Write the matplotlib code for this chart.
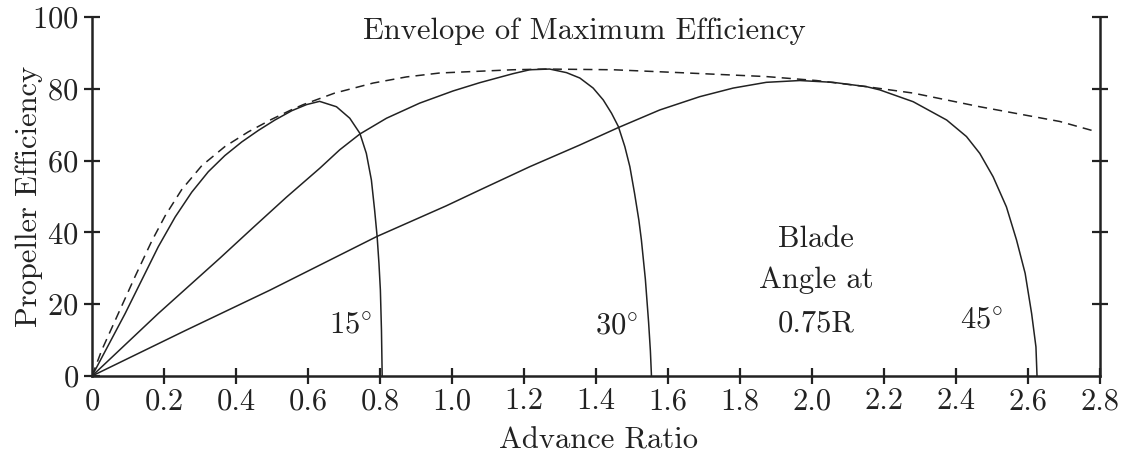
import matplotlib
matplotlib.use("Agg")
import matplotlib.pyplot as plt

plt.rcParams['font.family'] = 'cmr10'
plt.rcParams['mathtext.fontset'] = 'cm'
plt.rcParams['axes.formatter.use_mathtext'] = True
plt.rcParams['font.size'] = 22

ink = '#222222'

# blade angle 15 deg
j15 = [0, 0.092, 0.138, 0.184, 0.231, 0.277, 0.323, 0.369, 0.416, 0.462, 0.508,
       0.555, 0.596, 0.632, 0.679, 0.716, 0.744, 0.762, 0.776, 0.785, 0.792,
       0.797, 0.801, 0.804, 0.806]
eta15 = [0, 17.4, 26.7, 36.0, 44.3, 51.2, 56.9, 61.4, 65.2, 68.4, 71.3,
         73.9, 75.6, 76.5, 75.0, 71.8, 67.6, 62.0, 54.6, 46.2, 38.8,
         31.4, 23.9, 12.7, 0]

# blade angle 30 deg
j30 = [0, 0.184, 0.355, 0.447, 0.54, 0.633, 0.688, 0.744, 0.818, 0.91, 1.003,
       1.077, 1.169, 1.216, 1.271, 1.318, 1.355, 1.392, 1.42, 1.443, 1.462,
       1.48, 1.494, 1.507, 1.519, 1.526, 1.537, 1.546, 1.551, 1.554]
eta30 = [0, 17.4, 32.8, 41.3, 49.8, 57.9, 63.0, 67.4, 71.8, 76.0, 79.4,
         81.7, 84.2, 85.3, 85.5, 84.5, 83.0, 80.2, 76.9, 73.2, 69.5,
         63.9, 58.3, 50.9, 43.4, 37.9, 27.0, 15.0, 7.0, 0]

# blade angle 45 deg
j45 = [0, 0.258, 0.494, 0.79, 0.984, 1.077, 1.216, 1.354, 1.462, 1.577, 1.688,
       1.781, 1.873, 1.966, 2.058, 2.151, 2.188, 2.281, 2.374, 2.429, 2.466,
       2.503, 2.54, 2.568, 2.592, 2.61, 2.622, 2.625]
eta45 = [0, 12.6, 23.9, 38.8, 47.4, 51.8, 58.3, 64.3, 69.2, 74.1, 77.8,
         80.2, 81.8, 82.3, 81.8, 80.6, 79.7, 76.4, 71.3, 66.7, 62.0,
         55.5, 47.1, 37.9, 28.6, 17.4, 8.1, 0]

# envelope of maximum efficiency
jenv = [0, 0.027, 0.073, 0.12, 0.166, 0.203, 0.249, 0.305, 0.369, 0.434, 0.499,
        0.555, 0.587, 0.674, 0.781, 0.873, 0.966, 1.169, 1.262, 1.448, 1.632,
        1.873, 2.012, 2.151, 2.281, 2.466, 2.688, 2.781]
etaenv = [0, 7.2, 17.4, 27.8, 37.6, 44.6, 51.9, 58.6, 63.9, 68.0, 71.5,
          74.2, 75.6, 78.8, 81.6, 83.3, 84.4, 85.3, 85.5, 85.3, 84.5,
          83.4, 82.3, 80.6, 78.8, 75.0, 70.9, 68.3]

xticks = [0, 0.2, 0.4, 0.6, 0.8, 1.0, 1.2, 1.4, 1.6, 1.8, 2.0, 2.2, 2.4, 2.6, 2.8]
xticklabels = ['0', '0.2', '0.4', '0.6', '0.8', '1.0', '1.2', '1.4', '1.6',
               '1.8', '2.0', '2.2', '2.4', '2.6', '2.8']
yticks = [0, 20, 40, 60, 80, 100]

fig = plt.figure(figsize=(11.25, 4.53), dpi=100)
ax = fig.add_axes([0.0818, 0.1700, 0.896, 0.7925])

for j, eta in [(j15, eta15), (j30, eta30), (j45, eta45)]:
    ax.plot(j, eta, color=ink, lw=1.1)
ax.plot(jenv, etaenv, color=ink, lw=1.1, dashes=(6, 4))

ax.set_xlim(0, 2.8)
ax.set_ylim(0, 100)
ax.set_xticks(xticks)
ax.set_xticklabels(xticklabels)
ax.set_yticks(yticks)

ax.spines['top'].set_visible(False)
for s in ['left', 'right', 'bottom']:
    ax.spines[s].set_linewidth(1.8)
    ax.spines[s].set_color(ink)
ax.tick_params(axis='both', direction='inout', length=11, width=1.6,
               colors=ink, labelcolor=ink)
ax.tick_params(axis='x', pad=3)
ax.tick_params(axis='y', pad=4, right=True)
ax.xaxis.get_major_ticks()[0].tick1line.set_visible(False)
ax.yaxis.get_major_ticks()[0].tick2line.set_visible(False)

ax.set_xlabel('Advance Ratio', color=ink, va='baseline')
ax.set_ylabel('Propeller Efficiency', color=ink)
ax.xaxis.set_label_coords(0.502, -0.201)
ax.yaxis.set_label_coords(-0.049, 0.5)

ax.text(0.752, 93.8, 'Envelope of Maximum Efficiency', color=ink,
        ha='left', va='baseline')

# blade angle labels next to each curve
ax.text(0.776, 11.8, r'$15\!^\circ$', color=ink, ha='right', va='baseline')
ax.text(1.517, 11.6, r'$30\!^\circ$', color=ink, ha='right', va='baseline')
ax.text(2.531, 13.2, r'$45\!^\circ$', color=ink, ha='right', va='baseline')

for line, yb in [('Blade', 36.0), ('Angle at', 24.4), ('0.75R', 12.3)]:
    ax.text(2.012, yb, line, color=ink, ha='center', va='baseline')

fig.savefig('out.png', dpi=100)
